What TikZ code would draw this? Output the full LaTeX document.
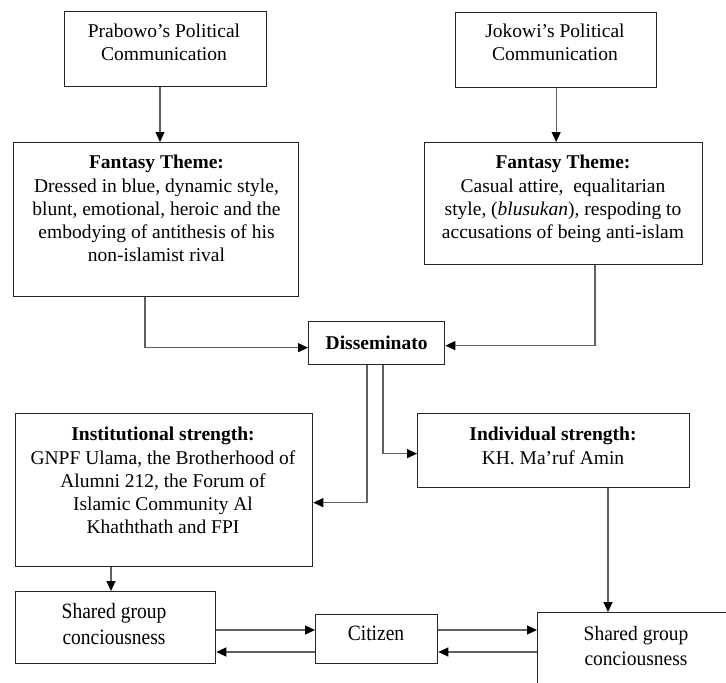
\documentclass[tikz,border=0pt]{standalone}
\usepackage{fontspec}
\setmainfont{Liberation Serif}
\usetikzlibrary{arrows.meta,calc}
\begin{document}
\begin{tikzpicture}[x=1pt,y=-1pt,
  boxstyle/.style={draw=black!85,line width=1.3pt,rectangle,inner sep=0pt,anchor=north west},
  txt/.style={inner sep=0pt,align=center,font=\fontsize{19.5}{23.3}\selectfont},
  conn/.style={draw=black!62,line width=1.2pt,-{Triangle[length=10pt,width=9pt,color=black]}}]
\path[use as bounding box] (0,0) rectangle (726,683);
\clip (0,0) rectangle (726,683);
\fill[white] (0,0) rectangle (726,683);
% boxes
\node[boxstyle,minimum width=202pt,minimum height=75pt] (pc) at (64,11) {};
\node[boxstyle,minimum width=201pt,minimum height=75pt] (jc) at (455,12) {};
\node[boxstyle,minimum width=285pt,minimum height=154pt] (fl) at (13,142) {};
\node[boxstyle,minimum width=278pt,minimum height=122pt] (fr) at (424,142) {};
\node[boxstyle,minimum width=136pt,minimum height=43pt] (dis) at (308,321) {};
\node[boxstyle,minimum width=297pt,minimum height=153pt] (inst) at (15,413) {};
\node[boxstyle,minimum width=272pt,minimum height=74pt] (indiv) at (417,413) {};
\node[boxstyle,minimum width=200pt,minimum height=72pt] (sgl) at (15,591) {};
\node[boxstyle,minimum width=122pt,minimum height=49pt] (cit) at (315,614) {};
\node[boxstyle,minimum width=198pt,minimum height=72pt] (sgr) at (537,612) {};
% texts
\node[txt,anchor=north] (tpc) at (164,23.5) {Prabowo’s Political\\Communication};
\node[txt,anchor=north] (tjc) at (555,23.5) {Jokowi’s Political\\Communication};
\node[txt,anchor=north] (tfl) at (156.5,155) {\textbf{Fantasy Theme:}\\Dressed in blue, dynamic style,\\blunt, emotional, heroic and the\\embodying of antithesis of his\\non-islamist rival};
\node[txt,anchor=north] (tfr) at (563,155) {\textbf{Fantasy Theme:}\\Casual attire,\ \ equalitarian\\style, (\textit{blusukan}), respoding to\\accusations of being anti-islam};
\node[txt] (tdis) at (dis.center) {\textbf{Disseminato}};
\node[txt,anchor=north] (tinst) at (163,427) {\textbf{Institutional strength:}\\GNPF Ulama, the Brotherhood of\\Alumni 212, the Forum of\\Islamic Community Al\\Khaththath and FPI};
\node[txt,anchor=north] (tindiv) at (553,427) {\textbf{Individual strength:}\\KH. Ma’ruf Amin};
\node[txt,anchor=north] (tsgl) at (114,600) {\scalebox{1}[1.12]{\begin{tabular}{@{}c@{}}Shared group\\conciousness\end{tabular}}};
\node[txt,anchor=base] (tcit) at (376,640) {\scalebox{1}[1.12]{Citizen}};
\node[txt,anchor=north] (tsgr) at (636,623.5) {\scalebox{1}[1.05]{\begin{tabular}{@{}c@{}}Shared group\\conciousness\end{tabular}}};
% column coordinates
\coordinate (c160) at (160,0);
\coordinate (c145) at (145,0);
\coordinate (c595) at (595,0);
\coordinate (c383) at (383,0);
\coordinate (c367) at (367,0);
\coordinate (c111) at (111,0);
\coordinate (c608) at (608,0);
\coordinate (r630) at (0,630);
\coordinate (r652) at (0,652);
% connectors
\draw[conn] (pc.south -| c160) -- (fl.north -| c160);
\draw[conn] (jc.south) -- (jc.south |- fr.north);
\draw[conn] (fl.south -| c145) |- ($(dis.west)+(0,4.5)$);
\draw[conn] (fr.south -| c595) |- ($(dis.east)+(0,2.5)$);
\draw[conn] (dis.south -| c383) |- ($(indiv.west)+(0,3)$);
\draw[conn] (dis.south -| c367) |- ($(inst.east)+(0,12.5)$);
\draw[conn] (inst.south -| c111) -- (sgl.north -| c111);
\draw[conn] (indiv.south -| c608) -- (sgr.north -| c608);
\draw[conn] (sgl.east |- r630) -- (cit.west |- r630);
\draw[conn] (cit.east |- r630) -- (sgr.west |- r630);
\draw[conn] (sgr.west |- r652) -- (cit.east |- r652);
\draw[conn] (cit.west |- r652) -- (sgl.east |- r652);
\end{tikzpicture}
\end{document}
